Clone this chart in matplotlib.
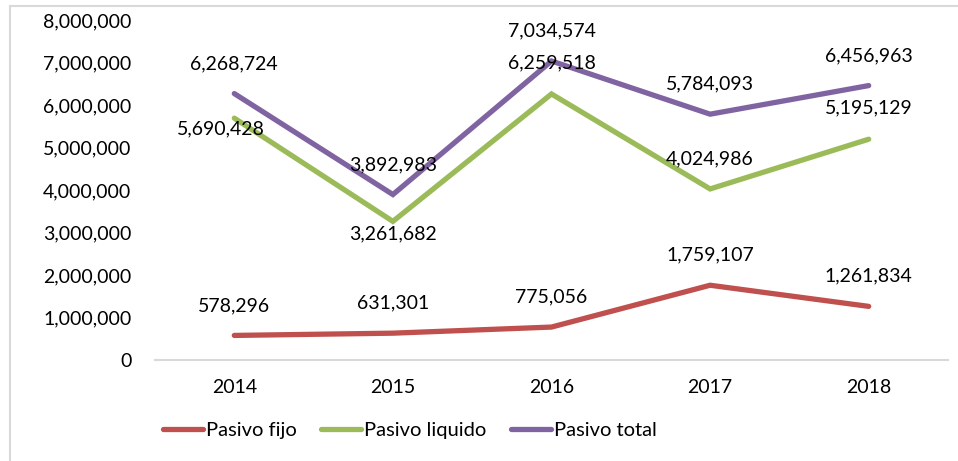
import matplotlib
matplotlib.use("Agg")
import matplotlib.pyplot as plt
from matplotlib.lines import Line2D
from matplotlib.ticker import FuncFormatter

# --- data ---
years = ["2014", "2015", "2016", "2017", "2018"]
pasivo_fijo = [578296, 631301, 775056, 1759107, 1261834]
pasivo_liquido = [5690428, 3261682, 6259518, 4024986, 5195129]
pasivo_total = [6268724, 3892983, 7034574, 5784093, 6456963]

# --- colours ---
RED = "#C0504D"
GREEN = "#9BBB59"
PURPLE = "#8064A2"
AXIS_GREY = "#D9D9D9"
FONT = ["Lato", "DejaVu Sans"]

plt.rcParams["font.family"] = FONT

fig = plt.figure(figsize=(9.58, 4.61), dpi=100)
ax = fig.add_axes([155 / 958, 101 / 461, 793 / 958, 340 / 461])

x = range(len(years))
series = [
    ("Pasivo fijo", pasivo_fijo, RED),
    ("Pasivo liquido", pasivo_liquido, GREEN),
    ("Pasivo total", pasivo_total, PURPLE),
]
for name, vals, col in series:
    ax.plot(x, vals, color=col, lw=3.8, solid_capstyle="round",
            solid_joinstyle="miter", label=name)

# data labels: mostly above the point, a couple placed below (in px)
label_offsets = {
    "Pasivo fijo": [(0, 30)] * 5,
    "Pasivo liquido": [(-13, -11), (0, -12), (0, 31), (0, 30), (0, 31)],
    "Pasivo total": [(0, 30)] * 5,
}
for name, vals, col in series:
    for i, v in enumerate(vals):
        dx, dy = label_offsets[name][i]
        ax.annotate(f"{v:,}", (i, v), xytext=(dx * 0.72, dy * 0.72),
                    textcoords="offset points", ha="center", va="center",
                    fontsize=14, color="black")

ax.set_xlim(-0.5, len(years) - 0.5)
ax.set_ylim(0, 8000000)
ax.set_yticks(range(0, 8000001, 1000000))
ax.yaxis.set_major_formatter(FuncFormatter(lambda v, _: f"{int(v):,}"))
ax.set_xticks(list(x))
ax.set_xticklabels(years)
ax.tick_params(axis="both", length=0, labelsize=14)
ax.tick_params(axis="y", pad=17)
ax.tick_params(axis="x", pad=14)

for s in ["top", "right", "left"]:
    ax.spines[s].set_visible(False)
ax.spines["bottom"].set_color(AXIS_GREY)
ax.spines["bottom"].set_linewidth(1.5)

leg = fig.legend(loc="center", bbox_to_anchor=(410 / 958, 1 - 430 / 461),
                 ncol=3, frameon=False, fontsize=14.5,
                 handlelength=2.0, handletextpad=0.15, columnspacing=1.2)

# chart area border (only top and left edges visible in the crop)
fig.add_artist(Line2D([10 / 958, 10 / 958], [0, 1 - 6 / 461],
                      color=AXIS_GREY, lw=1.5, transform=fig.transFigure))
fig.add_artist(Line2D([10 / 958, 1], [1 - 6 / 461, 1 - 6 / 461],
                      color=AXIS_GREY, lw=1.5, transform=fig.transFigure))

fig.savefig("out.png", dpi=100, facecolor="white")
